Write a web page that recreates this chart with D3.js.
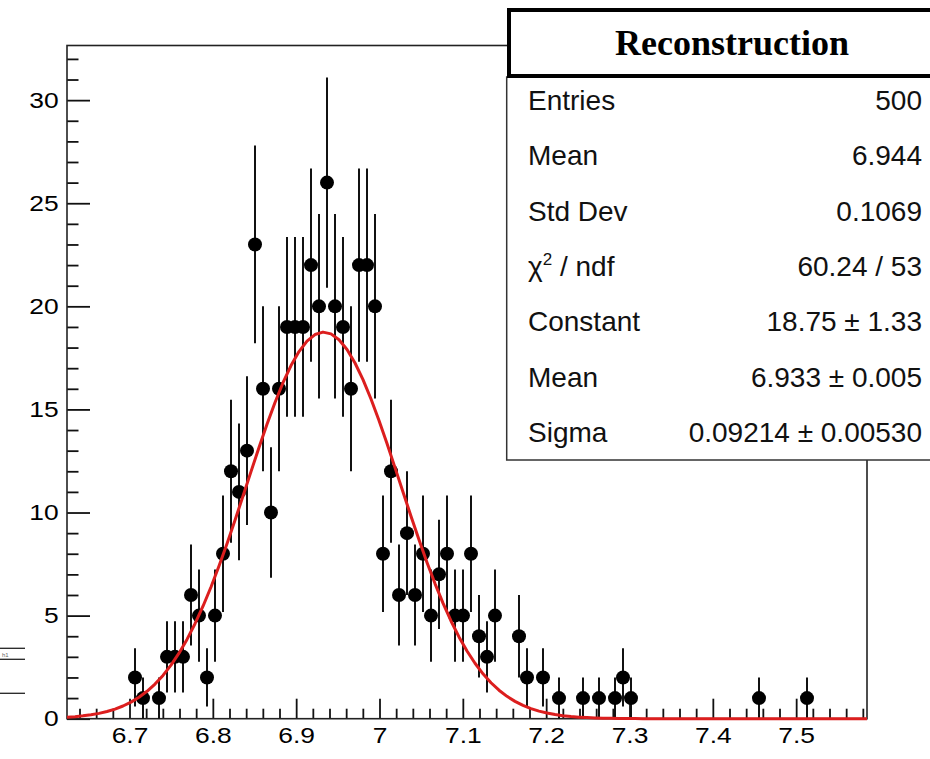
<!DOCTYPE html>
<html>
<head>
<meta charset="utf-8">
<script src="https://cdn.jsdelivr.net/npm/d3@7"></script>
<style>
  body { margin: 0; background: #fff; }
  svg { display: block; }
</style>
</head>
<body>
<script>
//histogram bins that are not empty (bin centre, entries)
var binCenters = [6.7066, 6.7162, 6.7354, 6.7450, 6.7546, 6.7642, 6.7738, 6.7834, 6.7930, 6.8026,
  6.8122, 6.8218, 6.8314, 6.8410, 6.8506, 6.8602, 6.8698, 6.8794, 6.8890, 6.8986,
  6.9082, 6.9178, 6.9274, 6.9370, 6.9466, 6.9562, 6.9658, 6.9754, 6.9850, 6.9946,
  7.0042, 7.0138, 7.0234, 7.0330, 7.0426, 7.0522, 7.0618, 7.0714, 7.0810, 7.0906,
  7.1002, 7.1098, 7.1194, 7.1290, 7.1386, 7.1674, 7.1770, 7.1962, 7.2154, 7.2442,
  7.2634, 7.2826, 7.2922, 7.3018, 7.4554, 7.5130];
var binCounts = [2, 1, 1, 3, 3, 3, 6, 5, 2, 5,
  8, 12, 11, 13, 23, 16, 10, 16, 19, 19,
  19, 22, 20, 26, 20, 19, 16, 22, 22, 20,
  8, 12, 6, 9, 6, 8, 5, 7, 8, 5,
  5, 8, 4, 3, 5, 4, 2, 2, 1, 1,
  1, 1, 2, 1, 1, 1];

//histogram range and bin width
var xRange = [6.625, 7.585];
var binWidth = 0.0096;
var yMax = 32.65;

//axis ticks
var xMajorTicks = [6.7, 6.8, 6.9, 7.0, 7.1, 7.2, 7.3, 7.4, 7.5];
var xTickLabels = ["6.7", "6.8", "6.9", "7", "7.1", "7.2", "7.3", "7.4", "7.5"];
var yMajorTicks = [0, 5, 10, 15, 20, 25, 30];
var yTickLabels = ["0", "5", "10", "15", "20", "25", "30"];

//gaussian fit parameters
var fitConstant = 18.75;
var fitMean = 6.933;
var fitSigma = 0.09214;

//stats box
var statsTitle = "Reconstruction";
var statsNames = ["Entries", "Mean", "Std Dev", "chi2", "Constant", "Mean", "Sigma"];
var statsValues = ["500", "6.944", "0.1069", "60.24 / 53", "18.75 \u00b1 1.33", "6.933 \u00b1 0.005", "0.09214 \u00b1 0.00530"];

var data = binCenters.map(function(c, i) {
  return { x: c, n: binCounts[i], err: Math.sqrt(binCounts[i]) };
});

var W = 930, H = 759;
var frame = { left: 67, right: 867, top: 45.5, bottom: 718.7 };

var svg = d3.select("body").append("svg")
  .attr("width", W)
  .attr("height", H);

var x = d3.scaleLinear().domain(xRange).range([frame.left, frame.right]);
var y = d3.scaleLinear().domain([0, yMax]).range([frame.bottom, frame.top]);

var labelFont = "'Liberation Sans', Arial, Helvetica, sans-serif";

//minor ticks first
var xMinor = d3.range(6.64, 7.59, 0.02).filter(function(v) {
  return Math.abs(Math.round(v * 10) - v * 10) > 0.01;
});
svg.append("g")
  .attr("transform", "translate(0," + frame.bottom + ")")
  .call(d3.axisBottom(x).tickValues(xMinor).tickSize(-10).tickFormat(""))
  .call(function(g) { g.select(".domain").remove(); });

var yMinor = d3.range(0, 33).filter(function(v) { return v % 5 != 0; });
svg.append("g")
  .attr("transform", "translate(" + frame.left + ",0)")
  .call(d3.axisLeft(y).tickValues(yMinor).tickSize(-11.5).tickFormat(""))
  .call(function(g) { g.select(".domain").remove(); });

//major ticks with labels
var xAxis = svg.append("g")
  .attr("transform", "translate(0," + frame.bottom + ")")
  .call(d3.axisBottom(x).tickValues(xMajorTicks).tickSize(-20).tickPadding(9)
    .tickFormat(function(d, i) { return xTickLabels[i]; }));
xAxis.select(".domain").remove();

var yAxis = svg.append("g")
  .attr("transform", "translate(" + frame.left + ",0)")
  .call(d3.axisLeft(y).tickValues(yMajorTicks).tickSize(-23).tickPadding(7)
    .tickFormat(function(d, i) { return yTickLabels[i]; }));
yAxis.select(".domain").remove();

svg.selectAll(".tick line").attr("stroke", "#111").attr("stroke-width", 1.8);
svg.selectAll(".tick text")
  .attr("fill", "#000")
  .style("font-family", labelFont)
  .style("font-size", "22px")
  .attr("transform", "scale(1.2,1)");

//frame
svg.append("rect")
  .attr("x", frame.left)
  .attr("y", frame.top)
  .attr("width", frame.right - frame.left)
  .attr("height", frame.bottom - frame.top)
  .attr("fill", "none")
  .attr("stroke", "#222")
  .attr("stroke-width", 1.6);

//error bars
var pts = svg.append("g");
pts.selectAll(".ey")
  .data(data)
  .enter().append("line")
  .attr("x1", function(d) { return x(d.x); })
  .attr("x2", function(d) { return x(d.x); })
  .attr("y1", function(d) { return y(d.n - d.err); })
  .attr("y2", function(d) { return y(d.n + d.err); })
  .attr("stroke", "#111")
  .attr("stroke-width", 2);

pts.selectAll(".ex")
  .data(data)
  .enter().append("line")
  .attr("x1", function(d) { return x(d.x - binWidth / 2); })
  .attr("x2", function(d) { return x(d.x + binWidth / 2); })
  .attr("y1", function(d) { return y(d.n); })
  .attr("y2", function(d) { return y(d.n); })
  .attr("stroke", "#111")
  .attr("stroke-width", 2);

pts.selectAll("circle")
  .data(data)
  .enter().append("circle")
  .attr("cx", function(d) { return x(d.x); })
  .attr("cy", function(d) { return y(d.n); })
  .attr("r", 7)
  .attr("fill", "#000");

//fit curve drawn like root does, 100 steps over the axis range
var fitXs = d3.range(0, 101).map(function(i) { return xRange[0] + (xRange[1] - xRange[0]) * i / 100; });
var gaus = function(v) { return fitConstant * Math.exp(-0.5 * Math.pow((v - fitMean) / fitSigma, 2)); };
var fitLine = d3.line()
  .x(function(v) { return x(v); })
  .y(function(v) { return y(gaus(v)); });

svg.append("path")
  .datum(fitXs)
  .attr("fill", "none")
  .attr("stroke", "#dc1e1e")
  .attr("stroke-width", 3)
  .attr("stroke-linejoin", "round")
  .attr("d", fitLine);

//stats box
var box = { x: 506.7, y: 77, w: 440, h: 383 };
svg.append("rect")
  .attr("x", box.x).attr("y", box.y)
  .attr("width", box.w).attr("height", box.h)
  .attr("fill", "#fff")
  .attr("stroke", "#333")
  .attr("stroke-width", 1.5);

svg.append("rect")
  .attr("x", 509).attr("y", 10)
  .attr("width", 440).attr("height", 66)
  .attr("fill", "#fff")
  .attr("stroke", "#000")
  .attr("stroke-width", 4);

svg.append("text")
  .attr("x", 732)
  .attr("y", 55)
  .attr("text-anchor", "middle")
  .style("font-family", "'Liberation Serif', 'Times New Roman', serif")
  .style("font-weight", "bold")
  .style("font-size", "36px")
  .text(statsTitle);

statsNames.forEach(function(name, i) {
  var by = 110 + 55.3 * i;
  var t = svg.append("text")
    .attr("x", 528)
    .attr("y", by)
    .attr("fill", "#111")
    .style("font-family", labelFont)
    .style("font-size", "28px");
  if (name == "chi2") {
    t.append("tspan").text("\u03c7");
    t.append("tspan").attr("dy", -11).style("font-size", "17px").text("2");
    t.append("tspan").attr("dy", 11).text(" / ndf");
  } else {
    t.text(name);
  }
  svg.append("text")
    .attr("x", 922)
    .attr("y", by)
    .attr("text-anchor", "end")
    .attr("fill", "#111")
    .style("font-family", labelFont)
    .style("font-size", "28px")
    .text(statsValues[i]);
});

//leftover bits of another stats box at the left edge
[648.3, 659.3, 693.3].forEach(function(ly) {
  svg.append("line")
    .attr("x1", 0).attr("x2", 25)
    .attr("y1", ly).attr("y2", ly)
    .attr("stroke", "#222")
    .attr("stroke-width", 1.3);
});
svg.append("text")
  .attr("x", 2)
  .attr("y", 657)
  .attr("fill", "#666")
  .style("font-family", labelFont)
  .style("font-size", "6px")
  .text("h1");
</script>
</body>
</html>
